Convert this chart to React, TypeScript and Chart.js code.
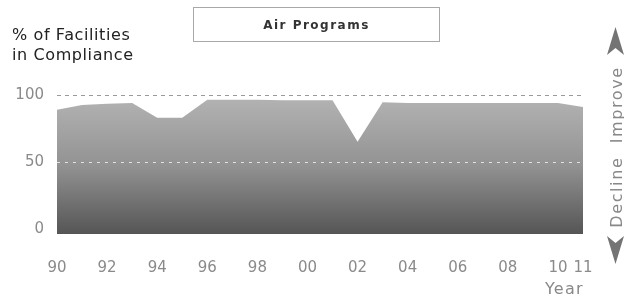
import React, { useEffect, useRef } from "react";
import { Chart, registerables } from "chart.js";

Chart.register(...registerables);

const years = ["90","91","92","93","94","95","96","97","98","99","00","01","02","03","04","05","06","07","08","09","10","11"];
const compliance = [89, 92.5, 93.5, 94, 83, 83, 96.5, 96.5, 96.5, 96, 96, 96, 65, 94.5, 94, 94, 94, 94, 94, 94, 94, 91];
const shownYearLabels = ["90","92","94","96","98","00","02","04","06","08","10","11"];
const yTickValues = [0, 50, 100];
const dashedLines = [
  { value: 100, color: "#9a9a9a", dash: [4, 4] },
  { value: 50, color: "#e2e2e2", dash: [3, 5] },
];

const FONT = "'DejaVu Sans', Verdana, sans-serif";

const gridPlugin = {
  id: "dashedGrid",
  afterDatasetsDraw(chart: any) {
    const { ctx, chartArea, scales } = chart;
    ctx.save();
    ctx.lineWidth = 1;
    for (const l of dashedLines) {
      const y = Math.round(scales.y.getPixelForValue(l.value)) + 0.5;
      ctx.strokeStyle = l.color;
      ctx.setLineDash(l.dash);
      ctx.beginPath();
      ctx.moveTo(chartArea.left, y);
      ctx.lineTo(chartArea.right, y);
      ctx.stroke();
    }
    ctx.restore();
  },
};

export default function App() {
  const ref = useRef<HTMLCanvasElement | null>(null);

  useEffect(() => {
    if (!ref.current) return;
    const chart = new Chart(ref.current, {
      type: "line",
      data: {
        labels: years,
        datasets: [
          {
            data: compliance,
            fill: "start",
            borderWidth: 0,
            pointRadius: 0,
            tension: 0,
            backgroundColor: (c: any) => {
              const area = c.chart.chartArea;
              if (!area) return "#999";
              const g = c.chart.ctx.createLinearGradient(0, area.top, 0, area.bottom);
              g.addColorStop(0, "#b4b4b4");
              g.addColorStop(0.5, "#939393");
              g.addColorStop(1, "#555555");
              return g;
            },
          },
        ],
      },
      options: {
        responsive: false,
        animation: false,
        layout: { padding: { top: 95, right: 41, left: 0, bottom: 0 } },
        plugins: { legend: { display: false }, tooltip: { enabled: false } },
        scales: {
          x: {
            offset: false,
            grid: { display: false, drawTicks: false },
            border: { display: false },
            afterFit: (s: any) => { s.height = 66; },
            ticks: {
              autoSkip: false,
              maxRotation: 0,
              padding: 25,
              color: "#8a8a8a",
              font: { family: FONT, size: 15 },
              callback: (_v: any, i: number) => (shownYearLabels.includes(years[i]) ? years[i] : ""),
            },
          },
          y: {
            min: -4,
            max: 100,
            grid: { display: false, drawTicks: false },
            border: { display: false },
            afterFit: (s: any) => { s.width = 57; },
            afterBuildTicks: (s: any) => { s.ticks = yTickValues.map((v) => ({ value: v })); },
            ticks: {
              padding: 13,
              color: "#8a8a8a",
              font: { family: FONT, size: 15 },
            },
          },
        },
      },
      plugins: [gridPlugin],
    } as any);
    return () => chart.destroy();
  }, []);

  return (
    <div style={{ position: "fixed", left: 0, top: 0, width: 624, height: 300, background: "#fff", overflow: "hidden", fontFamily: FONT }}>
      <canvas ref={ref} width={624} height={300} style={{ position: "absolute", left: 0, top: 0, display: "block" }} />
      <div style={{ position: "absolute", left: 12, top: 25, fontSize: 16, lineHeight: "20px", color: "#222", letterSpacing: 0.6 }}>
        % of Facilities
        <br />
        in Compliance
      </div>
      <div style={{ position: "absolute", left: 193, top: 7, width: 247, height: 35, boxSizing: "border-box", border: "1px solid #a8a8a8", display: "flex", alignItems: "center", justifyContent: "center", fontWeight: "bold", fontSize: 12, letterSpacing: 1.5, color: "#333" }}>
        Air Programs
      </div>
      <div style={{ position: "absolute", left: 545, top: 280, fontSize: 16, lineHeight: "18px", color: "#888", letterSpacing: 1.2 }}>Year</div>
      <div style={{ position: "absolute", left: 617 - 90, top: 147 - 10, width: 180, height: 20, lineHeight: "20px", textAlign: "center", transform: "rotate(-90deg)", fontSize: 16, color: "#888", letterSpacing: 1.6, whiteSpace: "pre" }}>
        {"Decline  Improve"}
      </div>
      <svg style={{ position: "absolute", left: 607, top: 27 }} width={17} height={29}>
        <polygon points="8.5,0 17,28 8.5,21 0,28" fill="#747474" />
      </svg>
      <svg style={{ position: "absolute", left: 607, top: 236 }} width={17} height={29}>
        <polygon points="0,0 8.5,7 17,0 8.5,28" fill="#747474" />
      </svg>
    </div>
  );
}
